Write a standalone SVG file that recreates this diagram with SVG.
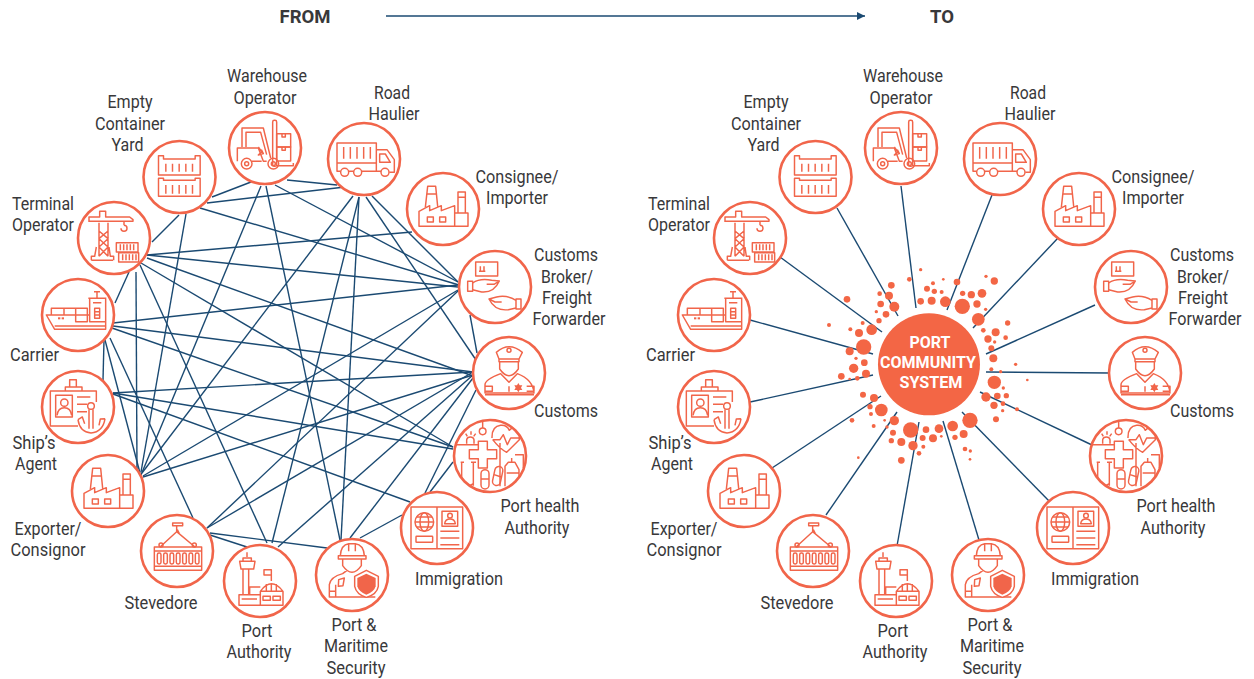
<svg xmlns="http://www.w3.org/2000/svg" xmlns:xlink="http://www.w3.org/1999/xlink" width="1254" height="679" viewBox="0 0 1254 679">
<style>
text{font-family:Roboto,"Liberation Sans",sans-serif;font-size:19px;fill:#38383a;text-anchor:middle}
.h{font-weight:700;font-size:19px}
.w{font-weight:700;font-size:17px;fill:#fff}
.n{fill:#fff;stroke:#f1654a;stroke-width:2.6}
.i *{fill:none;stroke:#f1654a;stroke-width:4.4;stroke-linejoin:round}
.i .f{fill:#f1654a;stroke:none}
.c line{stroke:#1b4a72;stroke-width:1.4}
.d circle{fill:#f36645}
</style>
<defs>
<marker id="arr" markerWidth="7" markerHeight="7" refX="6" refY="3" orient="auto"><path d="M0 0L6 3L0 6Z" fill="#1b4a72"/></marker>
<g id="i-fork" class="i" transform="scale(.3333) translate(-795 -265)"><rect x="818" y="182" width="12" height="138" rx="5"/><rect x="830" y="222" width="42" height="40"/><rect x="830" y="262" width="42" height="42"/><path d="M846 222v10h10v-10M846 262v10h10v-10M726 262V205H790L812 295M738 262V218H782L800 285M712 305V265H775L790 305H800M755 305H785M775 262l10 14-10 10 15-4-6-12M830 318H880V310"/><circle cx="740" cy="312" r="16"/><circle cx="740" cy="312" r="6"/><circle cx="820" cy="312" r="16"/><circle cx="820" cy="312" r="6"/></g>
<g id="i-yard" class="i" transform="scale(.3333) translate(-538 -352)"><path d="M475 288H490V298H585V288H600V346H475ZM475 356H490V362H585V356H600V410H475ZM497 312V336M517 312V336M537 312V336M557 312V336M577 312V336M497 376V402M517 376V402M537 376V402M557 376V402M577 376V402"/></g>
<g id="i-crane" class="i" transform="scale(.3333) translate(-343 -533)"><path d="M298 487V588M325 487V588M298 512L325 535L298 560L325 588M325 512L298 535L325 560L298 588M275 600V588H285L290 560M342 600V588H332L328 560M275 600H340M268 470H300V453H318V470H390L400 478V483H268ZM268 470V485M373 483V495M373 495a9 9 0 1 1-9 9"/><rect x="350" y="547" width="65" height="28"/><rect x="357" y="577" width="60" height="28"/><path d="M362 552V570M372 552V570M382 552V570M392 552V570M402 552V570M369 582V600M379 582V600M389 582V600M399 582V600M409 582V600"/></g>
<g id="i-ship" class="i" transform="scale(.3333) translate(-235 -765)"><path d="M140 765H270V785H318V808H165Z M165 798H318M155 765V745H193V765M193 745H263V765M228 745V785H263V765M270 787V715H318V787M266 715H320M292 715V695M283 695H301M285 745H300V775H285ZM285 755H300M285 765H300M280 728H305"/><rect class="f" x="175" y="772" width="7" height="6"/><rect class="f" x="186" y="772" width="7" height="6"/></g>
<g id="i-agent" class="i" transform="scale(.3333) translate(-235 -140)"><path d="M235 197H152V92H290V125M210 80V58H230V80M197 92V80H247V92M232 110H272M232 132H262M232 154H262"/><rect x="168" y="105" width="50" height="65"/><circle cx="194" cy="127" r="11"/><path d="M172 165Q175 142 194 142T216 165"/><circle cx="274" cy="137" r="10"/><path d="M268 147V205M280 147V205M235 178Q240 215 274 218Q310 215 316 175M235 178L248 170L255 190M316 175L302 176L298 195"/></g>
<g id="i-factory" class="i" transform="scale(.3333) translate(-325 -393)"><path d="M253 445V400L285 383V398L320 383V398L360 383V445ZM360 405H400V445H360M370 405V342H392V405M370 358H392M272 388L279 325H303L309 385M277 348H305"/><rect x="278" y="417" width="18" height="15"/><rect x="315" y="417" width="18" height="15"/></g>
<g id="i-steve" class="i" transform="scale(.3333) translate(-531 -574)"><rect x="463" y="562" width="142" height="70"/><path d="M463 574H605M463 620H605M480 562L530 516L585 562M530 516V498M518 490H548V498H518ZM532 510L538 522"/><circle cx="483" cy="556" r="6"/><circle cx="583" cy="556" r="6"/><rect x="472" y="580" width="11" height="33" rx="5"/><rect x="491" y="580" width="11" height="33" rx="5"/><rect x="510" y="580" width="11" height="33" rx="5"/><rect x="529" y="580" width="11" height="33" rx="5"/><rect x="548" y="580" width="11" height="33" rx="5"/><rect x="567" y="580" width="11" height="33" rx="5"/><rect x="586" y="580" width="11" height="33" rx="5"/></g>
<g id="i-auth" class="i" transform="scale(.3333) translate(-781 -664)"><path d="M742 578V592M730 605V595H755V605M720 605H766L762 628H724ZM730 628V705M747 628V705M718 705H782V737H718ZM750 705V682H782M726 718H772M782 737V695Q815 650 850 695V737H782ZM782 695H850M815 672V695M800 673V695M830 673V695M815 664V630H793V646H815M790 710H812V722H790ZM820 710H842V722H820Z"/></g>
<g id="i-sec" class="i" transform="scale(.3333) translate(-125 -646)"><path d="M90 588Q92 555 115 552V575M135 575V552Q160 555 162 588M115 552H135M84 588H167V598H84ZM97 598V618Q125 658 153 618V598M57 712V675Q60 652 97 642L110 632M57 695H76V712H57ZM76 675V712M57 712H195M85 660L102 655L98 678L84 680Z"/><path d="M168 632L204 650V680Q200 704 168 713Q138 704 133 680V650Z" style="fill:#fff"/><path class="f" d="M168 642L196 655V680Q192 696 168 705Q145 696 141 680V655Z"/></g>
<g id="i-immi" class="i" transform="scale(.3333) translate(-380 -505)"><rect x="302" y="442" width="155" height="125"/><path d="M380 442V567M314 487H370M318 472H366M318 502H366M390 515H447M390 535H447M390 555H447"/><circle cx="342" cy="487" r="28"/><ellipse cx="342" cy="487" rx="13" ry="28"/><rect x="317" y="530" width="50" height="18" rx="2"/><rect x="395" y="455" width="47" height="45"/><circle cx="419" cy="468" r="7"/><path d="M403 492Q405 478 419 478T435 492Z"/></g>
<clipPath id="hc"><circle cx="540" cy="289" r="108"/></clipPath>
<g id="i-health" class="i" transform="scale(.3333) translate(-540 -289)"><g clip-path="url(#hc)"><path d="M505 245H532V270H560V297H532V325H505V297H478V270H505ZM432 255H505M546 235Q545 200 572 197Q590 195 598 212Q612 195 628 212V240L590 278Q570 268 548 240M548 240H570L580 225L592 255L602 235H632M518 205V180M470 252V240Q472 232 481 232T492 240V252M467 222L472 230M483 215V225M497 222L491 230M455 310V372M490 310V378M452 308H462M483 308H498M455 370Q475 385 490 372M570 250V380M585 380V320L595 308H615L627 330V375M590 340H625M605 308V295M615 285H640V325"/><circle cx="518" cy="215" r="10"/><rect x="513" y="330" width="24" height="58" rx="12"/><path d="M513 358H537"/><rect x="551" y="320" width="24" height="58" rx="12" transform="rotate(12 563 349)"/><path d="M552 345L574 352"/></g></g>
<g id="i-cust" class="i" transform="scale(.3333)"><path d="M-38 -62Q0 -95 40 -62L30 -42H-30ZM-30 -34H30V-42H-30ZM-28 -34V-12Q0 28 28 -12V-34M-72 60V35Q-72 20 -25 2L0 28L25 2Q72 20 75 60ZM-72 65H75M-72 40H-50V55H-72M53 40H75V55H53M0 40V56"/><circle cx="0" cy="-68" r="6"/><path class="f" d="M28 30L32 37H40L36 44L40 51H32L28 58L24 51H16L20 44L16 37H24Z"/></g>
<g id="i-broker" class="i" transform="scale(.3333) translate(-555 -682)"><rect x="497" y="607" width="66" height="42"/><path d="M511 620V635M522 620V635M507 635H526M488 670Q510 655 545 662L568 664Q552 700 515 697L488 690M530 674H552L568 664M618 722Q590 705 560 712L537 718Q555 755 595 750L618 745M575 727H555L537 718"/><rect x="473" y="665" width="15" height="30"/><rect x="618" y="718" width="15" height="30"/></g>
<g id="i-truck" class="i" transform="scale(.3333) translate(-161 -298)"><path d="M80 310V250H198V310ZM80 310V335H91M115 335H130M154 335H212M198 335V310M198 270H230L252 300V338H237M208 283H225L240 308H208ZM100 262V297M120 262V297M140 262V297M160 262V297M180 262V297"/><circle cx="103" cy="338" r="12"/><circle cx="142" cy="338" r="12"/><circle cx="224" cy="338" r="12"/></g>
</defs>

<text class="h" x="305" y="23" textLength="51" lengthAdjust="spacingAndGlyphs">FROM</text>
<line x1="386" y1="16" x2="865" y2="16" stroke="#1b4a72" stroke-width="1.4" marker-end="url(#arr)"/>
<text class="h" x="942" y="23" textLength="24" lengthAdjust="spacingAndGlyphs">TO</text>

<g id="connectors-from" class="c">
<line x1="251" y1="182" x2="212" y2="197"/>
<line x1="207" y1="203" x2="345" y2="187"/>
<line x1="200" y1="208" x2="459" y2="285"/>
<line x1="275" y1="185" x2="458" y2="282"/>
<line x1="287" y1="180" x2="337" y2="185"/>
<line x1="261" y1="186" x2="141" y2="475"/>
<line x1="266" y1="186" x2="340" y2="540"/>
<line x1="186" y1="214" x2="141" y2="472"/>
<line x1="179" y1="215" x2="152" y2="242"/>
<line x1="147" y1="255" x2="412" y2="232"/>
<line x1="147" y1="255" x2="458" y2="287"/>
<line x1="147" y1="258" x2="473" y2="376"/>
<line x1="141" y1="263" x2="453" y2="447"/>
<line x1="136" y1="272" x2="137" y2="473"/>
<line x1="140" y1="265" x2="267" y2="543"/>
<line x1="129" y1="272" x2="115" y2="303"/>
<line x1="113" y1="323" x2="458" y2="285"/>
<line x1="113" y1="326" x2="473" y2="372"/>
<line x1="112" y1="328" x2="453" y2="447"/>
<line x1="104" y1="340" x2="103" y2="380"/>
<line x1="110" y1="338" x2="193" y2="518"/>
<line x1="105" y1="340" x2="140" y2="473"/>
<line x1="113" y1="393" x2="473" y2="372"/>
<line x1="113" y1="393" x2="453" y2="449"/>
<line x1="113" y1="394" x2="410" y2="502"/>
<line x1="143" y1="476" x2="458" y2="290"/>
<line x1="143" y1="477" x2="473" y2="375"/>
<line x1="142" y1="473" x2="353" y2="196"/>
<line x1="359" y1="197" x2="272" y2="543"/>
<line x1="359" y1="197" x2="341" y2="540"/>
<line x1="366" y1="197" x2="476" y2="360"/>
<line x1="372" y1="196" x2="458" y2="282"/>
<line x1="207" y1="528" x2="458" y2="291"/>
<line x1="207" y1="528" x2="473" y2="372"/>
<line x1="210" y1="533" x2="327" y2="548"/>
<line x1="210" y1="535" x2="247" y2="547"/>
<line x1="470" y1="315" x2="477" y2="353"/>
<line x1="473" y1="375" x2="278" y2="547"/>
<line x1="473" y1="378" x2="350" y2="538"/>
<line x1="476" y1="390" x2="425" y2="493"/>
<line x1="430" y1="492" x2="453" y2="462"/>
<line x1="402" y1="515" x2="360" y2="538"/>
</g>

<g id="connectors-to" class="c">
<line x1="901" y1="186" x2="916" y2="308"/>
<line x1="837" y1="208" x2="898" y2="316"/>
<line x1="992" y1="195" x2="947" y2="310"/>
<line x1="1058" y1="238" x2="973" y2="328"/>
<line x1="1095" y1="305" x2="986" y2="354"/>
<line x1="1110" y1="373" x2="986" y2="372"/>
<line x1="1092" y1="445" x2="980" y2="392"/>
<line x1="1051" y1="503" x2="962" y2="412"/>
<line x1="979" y1="540" x2="943" y2="421"/>
<line x1="897" y1="546" x2="919" y2="422"/>
<line x1="826" y1="515" x2="897" y2="412"/>
<line x1="772" y1="468" x2="881" y2="396"/>
<line x1="750" y1="402" x2="873" y2="375"/>
<line x1="750" y1="320" x2="873" y2="354"/>
<line x1="780" y1="257" x2="882" y2="332"/>
</g>

<g id="from-warehouse"><circle class="n" cx="265" cy="148" r="36"/><use href="#i-fork" transform="translate(265 148)"/><text x="267" y="82" textLength="80" lengthAdjust="spacingAndGlyphs">Warehouse</text><text x="265" y="104" textLength="63" lengthAdjust="spacingAndGlyphs">Operator</text></g>
<g id="from-yard"><circle class="n" cx="179.500" cy="177" r="36"/><use href="#i-yard" transform="translate(179.500 177)"/><text x="130" y="108" textLength="45" lengthAdjust="spacingAndGlyphs">Empty</text><text x="130" y="130" textLength="70" lengthAdjust="spacingAndGlyphs">Container</text><text x="127.500" y="151" textLength="32" lengthAdjust="spacingAndGlyphs">Yard</text></g>
<g id="from-terminal"><circle class="n" cx="114" cy="238" r="36"/><use href="#i-crane" transform="translate(114 238)"/><text x="43" y="210" textLength="62" lengthAdjust="spacingAndGlyphs">Terminal</text><text x="43" y="231" textLength="62" lengthAdjust="spacingAndGlyphs">Operator</text></g>
<g id="from-carrier"><circle class="n" cx="78" cy="315" r="36"/><use href="#i-ship" transform="translate(78 315)"/><text x="34.500" y="361" textLength="49" lengthAdjust="spacingAndGlyphs">Carrier</text></g>
<g id="from-agent"><circle class="n" cx="78" cy="407" r="36"/><use href="#i-agent" transform="translate(78 407)"/><text x="34" y="449" textLength="43" lengthAdjust="spacingAndGlyphs">Ship’s</text><text x="36" y="470" textLength="42" lengthAdjust="spacingAndGlyphs">Agent</text></g>
<g id="from-exporter"><circle class="n" cx="108" cy="491" r="36"/><use href="#i-factory" transform="translate(108 491)"/><text x="48" y="535" textLength="67" lengthAdjust="spacingAndGlyphs">Exporter/</text><text x="48" y="556" textLength="75" lengthAdjust="spacingAndGlyphs">Consignor</text></g>
<g id="from-stevedore"><circle class="n" cx="177" cy="551" r="36"/><use href="#i-steve" transform="translate(177 551)"/><text x="161" y="609" textLength="73" lengthAdjust="spacingAndGlyphs">Stevedore</text></g>
<g id="from-authority"><circle class="n" cx="260" cy="581" r="36"/><use href="#i-auth" transform="translate(260 581)"/><text x="257" y="637" textLength="31" lengthAdjust="spacingAndGlyphs">Port</text><text x="259" y="658" textLength="65" lengthAdjust="spacingAndGlyphs">Authority</text></g>
<g id="from-security"><circle class="n" cx="352" cy="575" r="36"/><use href="#i-sec" transform="translate(352 575)"/><text x="354" y="631" textLength="45" lengthAdjust="spacingAndGlyphs">Port &amp;</text><text x="356" y="652" textLength="64" lengthAdjust="spacingAndGlyphs">Maritime</text><text x="356" y="674" textLength="59" lengthAdjust="spacingAndGlyphs">Security</text></g>
<g id="from-immigration"><circle class="n" cx="437" cy="528" r="36"/><use href="#i-immi" transform="translate(437 528)"/><text x="459" y="585" textLength="88" lengthAdjust="spacingAndGlyphs">Immigration</text></g>
<g id="from-health"><circle class="n" cx="490" cy="456" r="36"/><use href="#i-health" transform="translate(490 456)"/><text x="540" y="512" textLength="79" lengthAdjust="spacingAndGlyphs">Port health</text><text x="537" y="534" textLength="65" lengthAdjust="spacingAndGlyphs">Authority</text></g>
<g id="from-customs"><circle class="n" cx="509" cy="373" r="36"/><use href="#i-cust" transform="translate(509 373)"/><text x="566" y="417" textLength="64" lengthAdjust="spacingAndGlyphs">Customs</text></g>
<g id="from-broker"><circle class="n" cx="495" cy="287" r="36"/><use href="#i-broker" transform="translate(495 287)"/><text x="566" y="261" textLength="64" lengthAdjust="spacingAndGlyphs">Customs</text><text x="567" y="283" textLength="52" lengthAdjust="spacingAndGlyphs">Broker/</text><text x="567" y="304" textLength="50" lengthAdjust="spacingAndGlyphs">Freight</text><text x="569" y="325" textLength="73" lengthAdjust="spacingAndGlyphs">Forwarder</text></g>
<g id="from-consignee"><circle class="n" cx="443" cy="209" r="36"/><use href="#i-factory" transform="translate(443 209)"/><text x="517" y="183" textLength="83" lengthAdjust="spacingAndGlyphs">Consignee/</text><text x="517" y="204" textLength="62" lengthAdjust="spacingAndGlyphs">Importer</text></g>
<g id="from-haulier"><circle class="n" cx="364" cy="159" r="36"/><use href="#i-truck" transform="translate(364 159)"/><text x="392" y="99" textLength="36" lengthAdjust="spacingAndGlyphs">Road</text><text x="394" y="120" textLength="51" lengthAdjust="spacingAndGlyphs">Haulier</text></g>

<g id="to-warehouse"><circle class="n" cx="901" cy="148" r="36"/><use href="#i-fork" transform="translate(901 148)"/><text x="903" y="82" textLength="80" lengthAdjust="spacingAndGlyphs">Warehouse</text><text x="901" y="104" textLength="63" lengthAdjust="spacingAndGlyphs">Operator</text></g>
<g id="to-yard"><circle class="n" cx="815.500" cy="177" r="36"/><use href="#i-yard" transform="translate(815.500 177)"/><text x="766" y="108" textLength="45" lengthAdjust="spacingAndGlyphs">Empty</text><text x="766" y="130" textLength="70" lengthAdjust="spacingAndGlyphs">Container</text><text x="763.500" y="151" textLength="32" lengthAdjust="spacingAndGlyphs">Yard</text></g>
<g id="to-terminal"><circle class="n" cx="750" cy="238" r="36"/><use href="#i-crane" transform="translate(750 238)"/><text x="679" y="210" textLength="62" lengthAdjust="spacingAndGlyphs">Terminal</text><text x="679" y="231" textLength="62" lengthAdjust="spacingAndGlyphs">Operator</text></g>
<g id="to-carrier"><circle class="n" cx="714" cy="315" r="36"/><use href="#i-ship" transform="translate(714 315)"/><text x="670.500" y="361" textLength="49" lengthAdjust="spacingAndGlyphs">Carrier</text></g>
<g id="to-agent"><circle class="n" cx="714" cy="407" r="36"/><use href="#i-agent" transform="translate(714 407)"/><text x="670" y="449" textLength="43" lengthAdjust="spacingAndGlyphs">Ship’s</text><text x="672" y="470" textLength="42" lengthAdjust="spacingAndGlyphs">Agent</text></g>
<g id="to-exporter"><circle class="n" cx="744" cy="491" r="36"/><use href="#i-factory" transform="translate(744 491)"/><text x="684" y="535" textLength="67" lengthAdjust="spacingAndGlyphs">Exporter/</text><text x="684" y="556" textLength="75" lengthAdjust="spacingAndGlyphs">Consignor</text></g>
<g id="to-stevedore"><circle class="n" cx="813" cy="551" r="36"/><use href="#i-steve" transform="translate(813 551)"/><text x="797" y="609" textLength="73" lengthAdjust="spacingAndGlyphs">Stevedore</text></g>
<g id="to-authority"><circle class="n" cx="896" cy="581" r="36"/><use href="#i-auth" transform="translate(896 581)"/><text x="893" y="637" textLength="31" lengthAdjust="spacingAndGlyphs">Port</text><text x="895" y="658" textLength="65" lengthAdjust="spacingAndGlyphs">Authority</text></g>
<g id="to-security"><circle class="n" cx="988" cy="575" r="36"/><use href="#i-sec" transform="translate(988 575)"/><text x="990" y="631" textLength="45" lengthAdjust="spacingAndGlyphs">Port &amp;</text><text x="992" y="652" textLength="64" lengthAdjust="spacingAndGlyphs">Maritime</text><text x="992" y="674" textLength="59" lengthAdjust="spacingAndGlyphs">Security</text></g>
<g id="to-immigration"><circle class="n" cx="1073" cy="528" r="36"/><use href="#i-immi" transform="translate(1073 528)"/><text x="1095" y="585" textLength="88" lengthAdjust="spacingAndGlyphs">Immigration</text></g>
<g id="to-health"><circle class="n" cx="1126" cy="456" r="36"/><use href="#i-health" transform="translate(1126 456)"/><text x="1176" y="512" textLength="79" lengthAdjust="spacingAndGlyphs">Port health</text><text x="1173" y="534" textLength="65" lengthAdjust="spacingAndGlyphs">Authority</text></g>
<g id="to-customs"><circle class="n" cx="1145" cy="373" r="36"/><use href="#i-cust" transform="translate(1145 373)"/><text x="1202" y="417" textLength="64" lengthAdjust="spacingAndGlyphs">Customs</text></g>
<g id="to-broker"><circle class="n" cx="1131" cy="287" r="36"/><use href="#i-broker" transform="translate(1131 287)"/><text x="1202" y="261" textLength="64" lengthAdjust="spacingAndGlyphs">Customs</text><text x="1203" y="283" textLength="52" lengthAdjust="spacingAndGlyphs">Broker/</text><text x="1203" y="304" textLength="50" lengthAdjust="spacingAndGlyphs">Freight</text><text x="1205" y="325" textLength="73" lengthAdjust="spacingAndGlyphs">Forwarder</text></g>
<g id="to-consignee"><circle class="n" cx="1079" cy="209" r="36"/><use href="#i-factory" transform="translate(1079 209)"/><text x="1153" y="183" textLength="83" lengthAdjust="spacingAndGlyphs">Consignee/</text><text x="1153" y="204" textLength="62" lengthAdjust="spacingAndGlyphs">Importer</text></g>
<g id="to-haulier"><circle class="n" cx="1000" cy="159" r="36"/><use href="#i-truck" transform="translate(1000 159)"/><text x="1028" y="99" textLength="36" lengthAdjust="spacingAndGlyphs">Road</text><text x="1030" y="120" textLength="51" lengthAdjust="spacingAndGlyphs">Haulier</text></g>

<g id="pcs">
<g class="d" transform="translate(790 250) scale(.3333)">
<circle cx="304" cy="106" r="10"/><circle cx="358" cy="88" r="7"/><circle cx="392" cy="59" r="5"/><circle cx="297" cy="137" r="12"/><circle cx="269" cy="131" r="7"/><circle cx="272" cy="162" r="10"/><circle cx="313" cy="170" r="15"/><circle cx="259" cy="185" r="5"/><circle cx="288" cy="193" r="10"/><circle cx="267" cy="212" r="8"/><circle cx="171" cy="148" r="10"/><circle cx="117" cy="225" r="6"/><circle cx="218" cy="219" r="6"/><circle cx="181" cy="238" r="6"/><circle cx="207" cy="249" r="12"/><circle cx="245" cy="239" r="16"/><circle cx="221" cy="291" r="23"/><circle cx="179" cy="304" r="12"/><circle cx="198" cy="325" r="5"/><circle cx="223" cy="338" r="10"/><circle cx="191" cy="355" r="14"/><circle cx="228" cy="371" r="12"/><circle cx="154" cy="379" r="10"/><circle cx="202" cy="385" r="7"/><circle cx="179" cy="387" r="4"/>
<circle cx="411" cy="116" r="9"/><circle cx="429" cy="100" r="6"/><circle cx="460" cy="88" r="4"/><circle cx="501" cy="96" r="10"/><circle cx="433" cy="124" r="8"/><circle cx="455" cy="126" r="6"/><circle cx="392" cy="154" r="10"/><circle cx="425" cy="152" r="12"/><circle cx="466" cy="155" r="16"/><circle cx="517" cy="169" r="23"/><circle cx="518" cy="130" r="8"/><circle cx="544" cy="134" r="11"/><circle cx="576" cy="130" r="13"/><circle cx="588" cy="79" r="5"/><circle cx="613" cy="93" r="11"/><circle cx="561" cy="162" r="11"/><circle cx="587" cy="178" r="5"/><circle cx="565" cy="208" r="19"/><circle cx="653" cy="219" r="8"/><circle cx="580" cy="241" r="7"/><circle cx="617" cy="247" r="12"/><circle cx="647" cy="263" r="7"/><circle cx="594" cy="267" r="11"/><circle cx="614" cy="276" r="5"/><circle cx="604" cy="295" r="9"/><circle cx="610" cy="325" r="12"/><circle cx="677" cy="343" r="5"/><circle cx="604" cy="358" r="6"/><circle cx="632" cy="365" r="5"/><circle cx="712" cy="390" r="4"/><circle cx="613" cy="397" r="20"/><circle cx="640" cy="414" r="5"/><circle cx="622" cy="438" r="10"/><circle cx="649" cy="437" r="8"/><circle cx="588" cy="441" r="14"/><circle cx="612" cy="466" r="11"/><circle cx="639" cy="461" r="7"/><circle cx="638" cy="482" r="5"/><circle cx="681" cy="478" r="6"/><circle cx="618" cy="508" r="9"/>
<circle cx="219" cy="434" r="9"/><circle cx="252" cy="444" r="12"/><circle cx="240" cy="470" r="8"/><circle cx="274" cy="480" r="19"/><circle cx="243" cy="492" r="6"/><circle cx="186" cy="511" r="7"/><circle cx="251" cy="528" r="6"/><circle cx="284" cy="511" r="4"/><circle cx="313" cy="512" r="14"/><circle cx="291" cy="531" r="5"/><circle cx="309" cy="548" r="9"/><circle cx="362" cy="540" r="23"/><circle cx="408" cy="539" r="10"/><circle cx="447" cy="536" r="13"/><circle cx="488" cy="528" r="16"/><circle cx="540" cy="511" r="23"/><circle cx="521" cy="552" r="12"/><circle cx="495" cy="562" r="8"/><circle cx="398" cy="564" r="9"/><circle cx="429" cy="565" r="12"/><circle cx="454" cy="559" r="4"/><circle cx="304" cy="572" r="8"/><circle cx="334" cy="576" r="12"/><circle cx="369" cy="587" r="14"/><circle cx="400" cy="590" r="6"/><circle cx="387" cy="610" r="7"/><circle cx="334" cy="631" r="10"/><circle cx="205" cy="623" r="4"/><circle cx="525" cy="597" r="7"/><circle cx="541" cy="603" r="5"/><circle cx="540" cy="628" r="4"/>
<circle cx="417" cy="343" r="153"/>
</g>
<text class="w" x="930" y="348" textLength="41" lengthAdjust="spacingAndGlyphs">PORT</text>
<text class="w" x="928" y="368" textLength="96" lengthAdjust="spacingAndGlyphs">COMMUNITY</text>
<text class="w" x="931" y="388" textLength="63" lengthAdjust="spacingAndGlyphs">SYSTEM</text>
</g>
</svg>
